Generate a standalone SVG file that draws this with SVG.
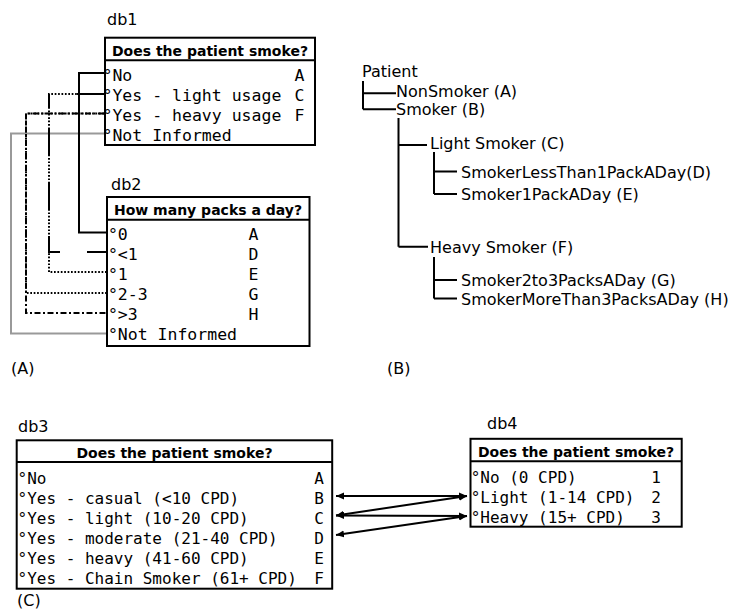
<svg xmlns="http://www.w3.org/2000/svg" width="734" height="610" viewBox="0 0 734 610">
<style>
.box{fill:#fff;stroke:#000;stroke-width:2}
.sep{stroke:#000;stroke-width:2}
.hdr{font-family:"DejaVu Sans",sans-serif;font-weight:bold;font-size:14px;text-anchor:middle;fill:#000}
.monoA{font-family:"DejaVu Sans Mono",monospace;font-size:16.5px;fill:#000}
.monoC{font-family:"DejaVu Sans Mono",monospace;font-size:16px;fill:#000}
.end{text-anchor:end}
.lbl{font-family:"DejaVu Sans",sans-serif;font-size:16px;fill:#000}
.ln{fill:none;stroke:#000;stroke-width:2}
.dot{stroke-dasharray:1.7 1.7}
.dashdot{stroke-dasharray:6 2.5 2 2.5}
.longdash{stroke-dasharray:20 27 27 27 27 27 27 20 14 28 40}
.gray{fill:none;stroke:#999;stroke-width:2}
.arr{fill:none;stroke:#000;stroke-width:2;marker-start:url(#ah);marker-end:url(#ah)}
</style>
<defs>
<marker id="ah" markerUnits="userSpaceOnUse" markerWidth="9" markerHeight="8" refX="8" refY="4" orient="auto-start-reverse">
<path d="M0,0.5 L8,4 L0,7.5 z" fill="#000"/>
</marker>
</defs>

<g id="connectors">
<path class="gray" d="M104,133.5 H11 V333.5 H107"/>
<path class="ln" d="M104,73 H79 V232.5 H107"/>
<path class="ln longdash" d="M107,252 H49 V94 H104"/>
<path class="ln dot" d="M104,94 H49 V272 H107"/>
<path class="ln dot" d="M104,113.5 H26 V293 H107"/>
<path class="ln dashdot" d="M104,113.5 H26 V313 H107"/>
<path class="arr" d="M336,496 L467,496"/>
<path class="arr" d="M336,515.5 L467,496"/>
<path class="arr" d="M336,515.5 L467,516"/>
<path class="arr" d="M336,535 L467,516"/>
</g>

<g id="db1">
<text class="lbl" x="107" y="25">db1</text>
<rect class="box" x="105" y="37.7" width="210" height="107.3"/>
<line class="sep" x1="105" y1="60.3" x2="315" y2="60.3"/>
<text class="hdr" x="210" y="56">Does the patient smoke?</text>
<text class="monoA" x="102.5" y="80.7">°No</text>
<text class="monoA" x="102.5" y="100.7">°Yes - light usage</text>
<text class="monoA" x="102.5" y="120.7">°Yes - heavy usage</text>
<text class="monoA" x="102.5" y="140.5">°Not Informed</text>
<text class="monoA end" x="304.5" y="80.7">A</text>
<text class="monoA end" x="304.5" y="100.7">C</text>
<text class="monoA end" x="304.5" y="120.7">F</text>
</g>

<g id="db2">
<text class="lbl" x="111" y="190">db2</text>
<rect class="box" x="107" y="197" width="202.5" height="149"/>
<line class="sep" x1="107" y1="219.7" x2="309.5" y2="219.7"/>
<text class="hdr" x="208" y="215">How many packs a day?</text>
<text class="monoA" x="107.9" y="239.5">°0</text>
<text class="monoA" x="107.9" y="259.5">°&lt;1</text>
<text class="monoA" x="107.9" y="279.5">°1</text>
<text class="monoA" x="107.9" y="299.5">°2-3</text>
<text class="monoA" x="107.9" y="319.5">°&gt;3</text>
<text class="monoA" x="107.9" y="339.5">°Not Informed</text>
<text class="monoA end" x="258.5" y="239.5">A</text>
<text class="monoA end" x="258.5" y="259.5">D</text>
<text class="monoA end" x="258.5" y="279.5">E</text>
<text class="monoA end" x="258.5" y="299.5">G</text>
<text class="monoA end" x="258.5" y="319.5">H</text>
</g>

<text class="lbl" x="11" y="373.5">(A)</text>

<g id="tree">
<g class="ln">
<path d="M363,81 V109.3 M363,93.3 H396 M363,109.3 H396"/>
<path d="M398.5,118 V246.7 M398.5,145 H427 M398.5,246.7 H428"/>
<path d="M434,152 V194 M434,171.5 H457 M434,194 H457"/>
<path d="M434,257 V298.5 M434,280 H457 M434,298.5 H457"/>
</g>
<text class="lbl" x="362" y="77">Patient</text>
<text class="lbl" x="396" y="97">NonSmoker (A)</text>
<text class="lbl" x="396" y="115">Smoker (B)</text>
<text class="lbl" x="430" y="149">Light Smoker (C)</text>
<text class="lbl" x="461" y="177.5">SmokerLessThan1PackADay(D)</text>
<text class="lbl" x="461" y="199.5">Smoker1PackADay (E)</text>
<text class="lbl" x="430" y="252.5">Heavy Smoker (F)</text>
<text class="lbl" x="461" y="286">Smoker2to3PacksADay (G)</text>
<text class="lbl" x="461" y="304.5">SmokerMoreThan3PacksADay (H)</text>
</g>

<text class="lbl" x="387" y="373.5">(B)</text>

<g id="db3">
<text class="lbl" x="18" y="432">db3</text>
<rect class="box" x="16.7" y="440.3" width="315.5" height="148.4"/>
<line class="sep" x1="16.7" y1="462" x2="332.2" y2="462"/>
<text class="hdr" x="174.5" y="457.5">Does the patient smoke?</text>
<text class="monoC" x="17.5" y="483.5">°No</text>
<text class="monoC" x="17.5" y="503.5">°Yes - casual (&lt;10 CPD)</text>
<text class="monoC" x="17.5" y="523.5">°Yes - light (10-20 CPD)</text>
<text class="monoC" x="17.5" y="543.5">°Yes - moderate (21-40 CPD)</text>
<text class="monoC" x="17.5" y="563.5">°Yes - heavy (41-60 CPD)</text>
<text class="monoC" x="17.5" y="583.5">°Yes - Chain Smoker (61+ CPD)</text>
<text class="monoC end" x="324" y="483.5">A</text>
<text class="monoC end" x="324" y="503.5">B</text>
<text class="monoC end" x="324" y="523.5">C</text>
<text class="monoC end" x="324" y="543.5">D</text>
<text class="monoC end" x="324" y="563.5">E</text>
<text class="monoC end" x="324" y="583.5">F</text>
</g>

<text class="lbl" x="17" y="606">(C)</text>

<g id="db4">
<text class="lbl" x="487" y="428.5">db4</text>
<rect class="box" x="470.5" y="438.8" width="211.2" height="87.9"/>
<line class="sep" x1="470.5" y1="461.2" x2="681.7" y2="461.2"/>
<text class="hdr" x="576" y="457.3">Does the patient smoke?</text>
<text class="monoC" x="470.7" y="482.5">°No (0 CPD)</text>
<text class="monoC" x="470.7" y="502.5">°Light (1-14 CPD)</text>
<text class="monoC" x="470.7" y="522.5">°Heavy (15+ CPD)</text>
<text class="monoC end" x="661" y="482.5">1</text>
<text class="monoC end" x="661" y="502.5">2</text>
<text class="monoC end" x="661" y="522.5">3</text>
</g>
</svg>
